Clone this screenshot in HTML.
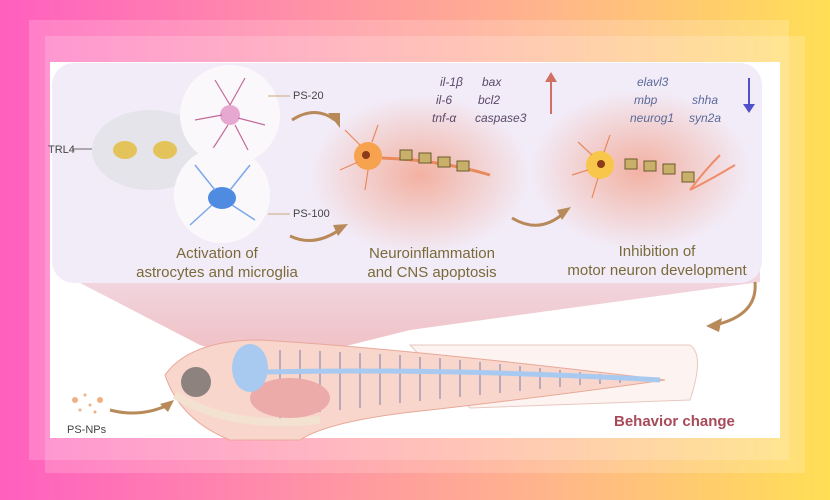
<!DOCTYPE html>
<html><head><meta charset="utf-8"><style>
html,body{margin:0;padding:0}
body{width:830px;height:500px;overflow:hidden;background:linear-gradient(90deg,#ff5fbf 0%,#ff8fa8 35%,#ffb48c 65%,#ffdf55 100%);position:relative;font-family:"Liberation Sans",sans-serif}
.f1{position:absolute;left:29px;top:20px;width:760px;height:440px;background:rgba(255,255,255,0.18)}
.f2{position:absolute;left:45px;top:36px;width:760px;height:437px;background:rgba(255,255,255,0.18)}
svg{position:absolute;left:0;top:0}
</style></head><body>
<div class="f1"></div><div class="f2"></div>
<svg width="830" height="500" viewBox="0 0 830 500">
<defs>
<radialGradient id="g1" cx="0.5" cy="0.5" r="0.5"><stop offset="0" stop-color="#f3a28c" stop-opacity="0.8"/><stop offset="1" stop-color="#f3a28c" stop-opacity="0"/></radialGradient>
<linearGradient id="cone" x1="0" y1="0" x2="0" y2="1"><stop offset="0" stop-color="#ecc8d8"/><stop offset="1" stop-color="#e8a0a4"/></linearGradient>
</defs>
<rect x="50" y="62" width="730" height="376" fill="#fff"/>
<polygon points="55,270 760,270 760,282 410,330 270,365 200,345" fill="url(#cone)" opacity="0.7"/>
<rect x="52" y="63" width="710" height="220" rx="22" fill="#f2ecf8"/>
<ellipse cx="420" cy="175" rx="110" ry="80" fill="url(#g1)"/>
<ellipse cx="640" cy="170" rx="110" ry="80" fill="url(#g1)"/>
<!-- TRL4 -->
<ellipse cx="150" cy="150" rx="58" ry="40" fill="#e4e4ea"/>
<ellipse cx="125" cy="150" rx="12" ry="9" fill="#e4c45a"/><ellipse cx="165" cy="150" rx="12" ry="9" fill="#e4c45a"/>
<line x1="72" y1="149" x2="92" y2="149" stroke="#666"/>
<text x="48" y="153" font-size="11" fill="#444">TRL4</text>
<circle cx="230" cy="115" r="50" fill="#fbf8fb"/>
<circle cx="230" cy="115" r="10" fill="#e6a8d0"/>
<g stroke="#c26a9a" stroke-width="1.2" fill="none"><path d="M230 105 L215 80 M230 105 L245 78 M222 115 L195 120 M238 118 L265 125 M228 125 L212 150 M235 125 L248 150"/></g>
<circle cx="222" cy="195" r="48" fill="#fbf8fb"/>
<ellipse cx="222" cy="198" rx="14" ry="11" fill="#4f8be0"/>
<g stroke="#7aa8ec" stroke-width="1.5" fill="none"><path d="M215 190 L195 165 M230 190 L250 165 M212 205 L190 225 M232 205 L255 220"/></g>
<text x="293" y="99" font-size="11" fill="#444">PS-20</text>
<line x1="268" y1="96" x2="290" y2="96" stroke="#c8a878"/>
<text x="293" y="217" font-size="11" fill="#444">PS-100</text>
<line x1="268" y1="214" x2="290" y2="214" stroke="#c8a878"/>
<g fill="none" stroke="#b88a5a" stroke-width="3"><path d="M292 120 Q315 105 335 120"/><path d="M290 236 Q315 248 342 228"/><path d="M512 218 Q540 235 565 212"/><path d="M755 282 Q758 315 715 325"/><path d="M110 410 Q140 418 168 405"/></g>
<g fill="#b88a5a"><polygon points="340,128 328,113 340,113"/><polygon points="348,224 338,236 333,225"/><polygon points="571,207 562,220 557,210"/><polygon points="706,326 722,318 719,332"/><polygon points="174,400 168,412 160,404"/></g>
<!-- neurons -->
<circle cx="368" cy="156" r="14" fill="#f6a24e"/><circle cx="366" cy="155" r="4" fill="#8b3a1a"/>
<g stroke="#e98a5c" stroke-width="1.2" fill="none"><path d="M360 145 L345 130 M358 162 L340 170 M368 170 L365 190 M372 142 L378 125"/></g>
<path d="M382 158 Q440 160 490 175" stroke="#e98a5c" stroke-width="3" fill="none"/>
<g fill="#c9b06a" stroke="#6b5a2a"><rect x="400" y="150" width="12" height="10"/><rect x="419" y="153" width="12" height="10"/><rect x="438" y="157" width="12" height="10"/><rect x="457" y="161" width="12" height="10"/></g>
<circle cx="600" cy="165" r="14" fill="#f8c64a"/><circle cx="601" cy="164" r="4" fill="#8b3a1a"/>
<g stroke="#e98a5c" stroke-width="1.2" fill="none"><path d="M592 155 L578 142 M588 170 L572 175 M598 178 L592 198 M604 152 L610 135"/></g>
<g fill="#c9b06a" stroke="#6b5a2a"><rect x="625" y="159" width="12" height="10"/><rect x="644" y="161" width="12" height="10"/><rect x="663" y="164" width="12" height="10"/><rect x="682" y="172" width="12" height="10"/></g>
<path d="M690 190 Q705 170 720 155 M690 190 Q710 180 735 165" stroke="#f08c6a" stroke-width="2" fill="none"/>
<g font-style="italic" font-size="12" fill="#5a4a6a">
<text x="440" y="86">il-1β</text><text x="482" y="86">bax</text>
<text x="436" y="104">il-6</text><text x="478" y="104">bcl2</text>
<text x="432" y="122">tnf-α</text><text x="475" y="122">caspase3</text></g>
<line x1="551" y1="114" x2="551" y2="78" stroke="#d07060" stroke-width="2"/><polygon points="545,82 551,72 557,82" fill="#d07060"/>
<g font-style="italic" font-size="12" fill="#5a6a9a">
<text x="637" y="86">elavl3</text><text x="634" y="104">mbp</text><text x="692" y="104">shha</text>
<text x="630" y="122">neurog1</text><text x="689" y="122">syn2a</text></g>
<line x1="749" y1="78" x2="749" y2="108" stroke="#5050c8" stroke-width="2"/><polygon points="743,104 749,113 755,104" fill="#5050c8"/>
<g font-size="15" fill="#7a6a3a" text-anchor="middle">
<text x="217" y="258">Activation of</text><text x="217" y="277">astrocytes and microglia</text>
<text x="432" y="258">Neuroinflammation</text><text x="432" y="277">and CNS apoptosis</text>
<text x="657" y="256">Inhibition of</text><text x="657" y="275">motor neuron development</text></g>
<!-- fish -->
<path d="M410 345 L690 345 Q705 355 690 400 L470 408 Z" fill="#fdf3f0" stroke="#e8c8c0"/>
<path d="M165 375 Q190 340 260 340 Q400 348 665 380 Q560 395 430 410 Q330 420 300 440 L230 440 Q180 420 165 375 Z" fill="#f8d6cc" stroke="#e8a898"/>
<g stroke="#5a6aa0" stroke-width="0.8"><path d="M280 350 V420 M300 350 V415 M320 351 V412 M340 352 V410 M360 353 V408 M380 354 V405 M400 355 V403 M420 357 V401 M440 358 V399 M460 360 V397 M480 362 V395 M500 364 V393 M520 366 V391 M540 368 V389 M560 370 V387 M580 372 V385 M600 374 V384 M620 376 V383"/></g>
<path d="M175 395 Q230 430 320 420" stroke="#f3e2cf" stroke-width="8" fill="none"/>
<ellipse cx="290" cy="398" rx="40" ry="20" fill="#ecaaa8"/>
<circle cx="196" cy="382" r="15" fill="#8e827e"/>
<ellipse cx="250" cy="368" rx="18" ry="24" fill="#a8caf0"/>
<path d="M262 372 Q450 368 660 380" stroke="#a8caf0" stroke-width="5" fill="none"/>
<g fill="#f0b080"><circle cx="75" cy="400" r="3"/><circle cx="100" cy="400" r="3"/><circle cx="85" cy="395" r="1.5"/><circle cx="90" cy="405" r="1.5"/><circle cx="80" cy="410" r="1.5"/><circle cx="95" cy="412" r="1.5"/></g>
<text x="67" y="433" font-size="11" fill="#444">PS-NPs</text>
<text x="614" y="426" font-size="15" font-weight="bold" fill="#a84a5a">Behavior change</text>
</svg>
</body></html>
